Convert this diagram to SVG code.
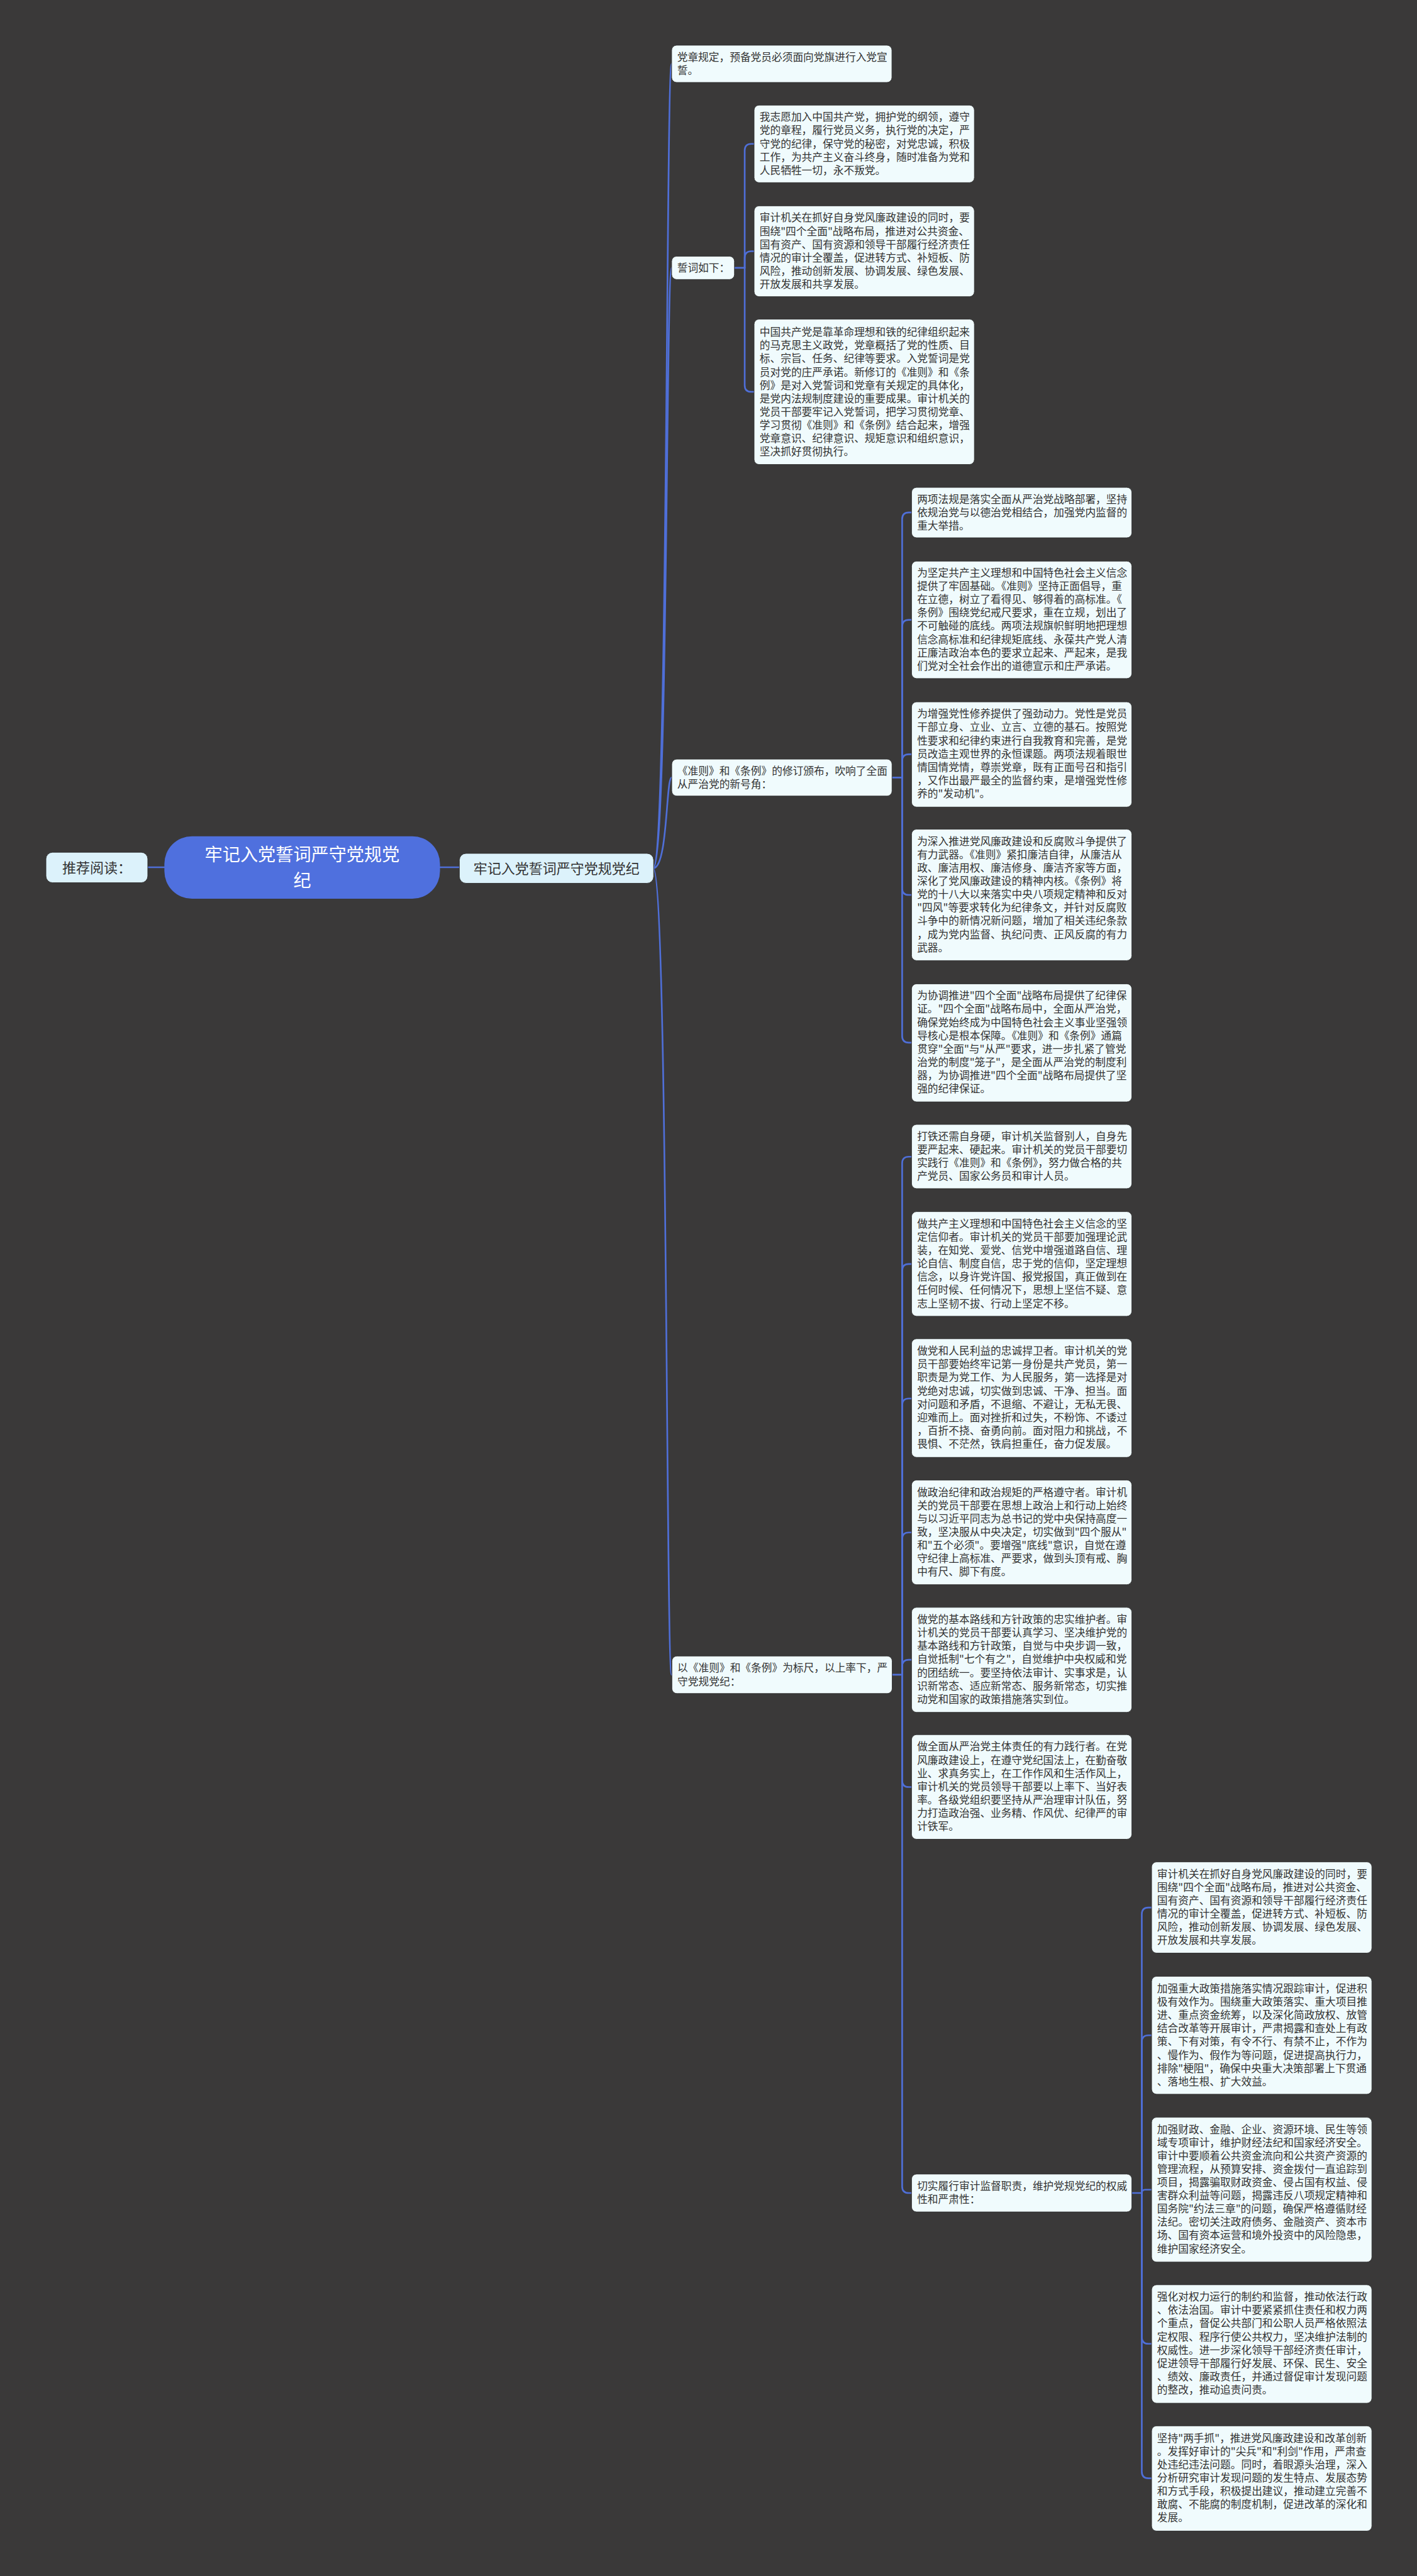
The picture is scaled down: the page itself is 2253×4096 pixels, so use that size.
<svg xmlns="http://www.w3.org/2000/svg" width="2253" height="4096" viewBox="0 0 2253 4096">
<defs>
<style>
.bg{fill:#3a3939}
.box{fill:#f0fbfd;stroke:#2b2b2b;stroke-width:1}
.lbox{fill:#dcf2fb;stroke:#2b2b2b;stroke-width:1}
.root{fill:#4f70de}
.t{font-family:"Noto Sans CJK SC","Liberation Sans",sans-serif;font-size:19px;fill:#333}
.tl{font-family:"Noto Sans CJK SC","Liberation Sans",sans-serif;font-size:25px;fill:#333}
.tr{font-family:"Noto Sans CJK SC","Liberation Sans",sans-serif;font-size:32px;fill:#fff}
.c{fill:none;stroke:#4f6fd8;stroke-width:3;stroke-linecap:round}
</style>
</defs>
<rect class="bg" x="0" y="0" width="2253" height="4096"/>
<g transform="scale(0.88)">
<g id="connectors">
<path class="c" d="M267 1567 H297"/>
<path class="c" d="M795 1567 H830"/>
<path class="c" d="M1180 1569 C1207 1569 1203 115.5 1213.5 115.5"/>
<path class="c" d="M1180 1569 C1207 1569 1203 484 1213.5 484"/>
<path class="c" d="M1180 1569 C1207 1569 1203 1405 1213.5 1405"/>
<path class="c" d="M1180 1569 C1207 1569 1203 3026 1213.5 3026"/>
<path class="c" d="M1327 484 H1345.5"/>
<path class="c" d="M1345.5 484 V272 Q1345.5 260 1357.5 260 H1362.5"/>
<path class="c" d="M1345.5 484 V466 Q1345.5 454 1357.5 454 H1362.5"/>
<path class="c" d="M1345.5 484 V696 Q1345.5 708 1357.5 708 H1362.5"/>
<path class="c" d="M1611.5 1405 H1630"/>
<path class="c" d="M1630 1405 V938 Q1630 926 1642 926 H1647"/>
<path class="c" d="M1630 1405 V1132 Q1630 1120 1642 1120 H1647"/>
<path class="c" d="M1630 1405 V1375 Q1630 1363 1642 1363 H1647"/>
<path class="c" d="M1630 1405 V1605 Q1630 1617 1642 1617 H1647"/>
<path class="c" d="M1630 1405 V1872 Q1630 1884 1642 1884 H1647"/>
<path class="c" d="M1611 3026 H1630"/>
<path class="c" d="M1630 3026 V2102 Q1630 2090 1642 2090 H1647"/>
<path class="c" d="M1630 3026 V2296 Q1630 2284 1642 2284 H1647"/>
<path class="c" d="M1630 3026 V2539 Q1630 2527 1642 2527 H1647"/>
<path class="c" d="M1630 3026 V2781 Q1630 2769 1642 2769 H1647"/>
<path class="c" d="M1630 3026 V3011 Q1630 2999 1642 2999 H1647"/>
<path class="c" d="M1630 3026 V3217 Q1630 3229 1642 3229 H1647"/>
<path class="c" d="M1630 3026 V3950.5 Q1630 3962.5 1642 3962.5 H1647"/>
<path class="c" d="M2045 3962.5 H2063"/>
<path class="c" d="M2063 3962.5 V3458.7 Q2063 3446.7 2075 3446.7 H2080.7"/>
<path class="c" d="M2063 3962.5 V3689.5 Q2063 3677.5 2075 3677.5 H2080.7"/>
<path class="c" d="M2063 3962.5 Q2063 3956.5 2069 3956.5 H2080.7"/>
<path class="c" d="M2063 3962.5 V4223 Q2063 4235 2075 4235 H2080.7"/>
<path class="c" d="M2063 3962.5 V4466 Q2063 4478 2075 4478 H2080.7"/>
</g>

<g id="n-recommend">
<rect class="lbox" x="83" y="1540" width="184" height="55" rx="12"/>
<text class="tl" x="175" y="1577" text-anchor="middle">推荐阅读：</text>
</g>
<g id="n-root">
<rect class="root" x="297" y="1511" width="498" height="113" rx="50"/>
<text class="tr" text-anchor="middle"><tspan x="546" y="1556">牢记入党誓词严守党规党</tspan><tspan x="546" y="1602">纪</tspan></text>
</g>
<g id="n-main">
<rect class="lbox" x="830" y="1542" width="351" height="54" rx="12"/>
<text class="tl" x="1005.5" y="1578" text-anchor="middle">牢记入党誓词严守党规党纪</text>
</g>

<g id="n1">
<rect class="box" x="1213.5" y="81.7" width="398" height="67.3" rx="9"/>
<text class="t"><tspan x="1223.5" y="110">党章规定，预备党员必须面向党旗进行入党宣</tspan><tspan x="1223.5" y="134">誓。</tspan></text>
</g>
<g id="n2">
<rect class="box" x="1213.5" y="463" width="113.5" height="42" rx="9"/>
<text class="t" x="1223.5" y="491">誓词如下：</text>
</g>
<g id="n2-1">
<rect class="box" x="1362.5" y="190" width="398" height="140" rx="9"/>
<text class="t"><tspan x="1372.5" y="218.5">我志愿加入中国共产党，拥护党的纲领，遵守</tspan><tspan x="1372.5" y="242.5">党的章程，履行党员义务，执行党的决定，严</tspan><tspan x="1372.5" y="266.5">守党的纪律，保守党的秘密，对党忠诚，积极</tspan><tspan x="1372.5" y="290.5">工作，为共产主义奋斗终身，随时准备为党和</tspan><tspan x="1372.5" y="314.5">人民牺牲一切，永不叛党。</tspan></text>
</g>
<g id="n2-2">
<rect class="box" x="1362.5" y="372" width="398" height="164" rx="9"/>
<text class="t"><tspan x="1372.5" y="400.5">审计机关在抓好自身党风廉政建设的同时，要</tspan><tspan x="1372.5" y="424.5">围绕"四个全面"战略布局，推进对公共资金、</tspan><tspan x="1372.5" y="448.5">国有资产、国有资源和领导干部履行经济责任</tspan><tspan x="1372.5" y="472.5">情况的审计全覆盖，促进转方式、补短板、防</tspan><tspan x="1372.5" y="496.5">风险，推动创新发展、协调发展、绿色发展、</tspan><tspan x="1372.5" y="520.5">开放发展和共享发展。</tspan></text>
</g>
<g id="n2-3">
<rect class="box" x="1362.5" y="576.7" width="398" height="262.6" rx="9"/>
<text class="t"><tspan x="1372.5" y="607">中国共产党是靠革命理想和铁的纪律组织起来</tspan><tspan x="1372.5" y="631">的马克思主义政党，党章概括了党的性质、目</tspan><tspan x="1372.5" y="655">标、宗旨、任务、纪律等要求。入党誓词是党</tspan><tspan x="1372.5" y="679">员对党的庄严承诺。新修订的《准则》和《条</tspan><tspan x="1372.5" y="703">例》是对入党誓词和党章有关规定的具体化，</tspan><tspan x="1372.5" y="727">是党内法规制度建设的重要成果。审计机关的</tspan><tspan x="1372.5" y="751">党员干部要牢记入党誓词，把学习贯彻党章、</tspan><tspan x="1372.5" y="775">学习贯彻《准则》和《条例》结合起来，增强</tspan><tspan x="1372.5" y="799">党章意识、纪律意识、规矩意识和组织意识，</tspan><tspan x="1372.5" y="823">坚决抓好贯彻执行。</tspan></text>
</g>

<g id="n3">
<rect class="box" x="1213.7" y="1371.7" width="398" height="66.6" rx="9"/>
<text class="t"><tspan x="1223.7" y="1400">《准则》和《条例》的修订颁布，吹响了全面</tspan><tspan x="1223.7" y="1424">从严治党的新号角：</tspan></text>
</g>
<g id="n3-1">
<rect class="box" x="1647" y="880.7" width="398" height="91" rx="9"/>
<text class="t"><tspan x="1657" y="909">两项法规是落实全面从严治党战略部署，坚持</tspan><tspan x="1657" y="933">依规治党与以德治党相结合，加强党内监督的</tspan><tspan x="1657" y="957">重大举措。</tspan></text>
</g>
<g id="n3-2">
<rect class="box" x="1647" y="1014" width="398" height="212" rx="9"/>
<text class="t"><tspan x="1657" y="1042">为坚定共产主义理想和中国特色社会主义信念</tspan><tspan x="1657" y="1066">提供了牢固基础。《准则》坚持正面倡导，重</tspan><tspan x="1657" y="1090">在立德，树立了看得见、够得着的高标准。《</tspan><tspan x="1657" y="1114">条例》围绕党纪戒尺要求，重在立规，划出了</tspan><tspan x="1657" y="1138">不可触碰的底线。两项法规旗帜鲜明地把理想</tspan><tspan x="1657" y="1162">信念高标准和纪律规矩底线、永葆共产党人清</tspan><tspan x="1657" y="1186">正廉洁政治本色的要求立起来、严起来，是我</tspan><tspan x="1657" y="1210">们党对全社会作出的道德宣示和庄严承诺。</tspan></text>
</g>
<g id="n3-3">
<rect class="box" x="1647" y="1268.3" width="398" height="190" rx="9"/>
<text class="t"><tspan x="1657" y="1297">为增强党性修养提供了强劲动力。党性是党员</tspan><tspan x="1657" y="1321">干部立身、立业、立言、立德的基石。按照党</tspan><tspan x="1657" y="1345">性要求和纪律约束进行自我教育和完善，是党</tspan><tspan x="1657" y="1369">员改造主观世界的永恒课题。两项法规着眼世</tspan><tspan x="1657" y="1393">情国情党情，尊崇党章，既有正面号召和指引</tspan><tspan x="1657" y="1417">，又作出最严最全的监督约束，是增强党性修</tspan><tspan x="1657" y="1441">养的"发动机"。</tspan></text>
</g>
<g id="n3-4">
<rect class="box" x="1647" y="1498.3" width="398" height="237.4" rx="9"/>
<text class="t"><tspan x="1657" y="1527">为深入推进党风廉政建设和反腐败斗争提供了</tspan><tspan x="1657" y="1551">有力武器。《准则》紧扣廉洁自律，从廉洁从</tspan><tspan x="1657" y="1575">政、廉洁用权、廉洁修身、廉洁齐家等方面，</tspan><tspan x="1657" y="1599">深化了党风廉政建设的精神内核。《条例》将</tspan><tspan x="1657" y="1623">党的十八大以来落实中央八项规定精神和反对</tspan><tspan x="1657" y="1647">"四风"等要求转化为纪律条文，并针对反腐败</tspan><tspan x="1657" y="1671">斗争中的新情况新问题，增加了相关违纪条款</tspan><tspan x="1657" y="1695">，成为党内监督、执纪问责、正风反腐的有力</tspan><tspan x="1657" y="1719">武器。</tspan></text>
</g>
<g id="n3-5">
<rect class="box" x="1647" y="1777.7" width="398" height="213.3" rx="9"/>
<text class="t"><tspan x="1657" y="1806">为协调推进"四个全面"战略布局提供了纪律保</tspan><tspan x="1657" y="1830">证。"四个全面"战略布局中，全面从严治党，</tspan><tspan x="1657" y="1854">确保党始终成为中国特色社会主义事业坚强领</tspan><tspan x="1657" y="1878">导核心是根本保障。《准则》和《条例》通篇</tspan><tspan x="1657" y="1902">贯穿"全面"与"从严"要求，进一步扎紧了管党</tspan><tspan x="1657" y="1926">治党的制度"笼子"，是全面从严治党的制度利</tspan><tspan x="1657" y="1950">器，为协调推进"四个全面"战略布局提供了坚</tspan><tspan x="1657" y="1974">强的纪律保证。</tspan></text>
</g>

<g id="n4">
<rect class="box" x="1214" y="2992.3" width="398" height="67.7" rx="9"/>
<text class="t"><tspan x="1224" y="3021">以《准则》和《条例》为标尺，以上率下，严</tspan><tspan x="1224" y="3045">守党规党纪：</tspan></text>
</g>
<g id="n4-1">
<rect class="box" x="1647" y="2031.7" width="398" height="116" rx="9"/>
<text class="t"><tspan x="1657" y="2060">打铁还需自身硬，审计机关监督别人，自身先</tspan><tspan x="1657" y="2084">要严起来、硬起来。审计机关的党员干部要切</tspan><tspan x="1657" y="2108">实践行《准则》和《条例》，努力做合格的共</tspan><tspan x="1657" y="2132">产党员、国家公务员和审计人员。</tspan></text>
</g>
<g id="n4-2">
<rect class="box" x="1647" y="2189.3" width="398" height="189" rx="9"/>
<text class="t"><tspan x="1657" y="2218">做共产主义理想和中国特色社会主义信念的坚</tspan><tspan x="1657" y="2242">定信仰者。审计机关的党员干部要加强理论武</tspan><tspan x="1657" y="2266">装，在知党、爱党、信党中增强道路自信、理</tspan><tspan x="1657" y="2290">论自信、制度自信，忠于党的信仰，坚定理想</tspan><tspan x="1657" y="2314">信念，以身许党许国、报党报国，真正做到在</tspan><tspan x="1657" y="2338">任何时候、任何情况下，思想上坚信不疑、意</tspan><tspan x="1657" y="2362">志上坚韧不拔、行动上坚定不移。</tspan></text>
</g>
<g id="n4-3">
<rect class="box" x="1647" y="2419" width="398" height="214.3" rx="9"/>
<text class="t"><tspan x="1657" y="2448">做党和人民利益的忠诚捍卫者。审计机关的党</tspan><tspan x="1657" y="2472">员干部要始终牢记第一身份是共产党员，第一</tspan><tspan x="1657" y="2496">职责是为党工作、为人民服务，第一选择是对</tspan><tspan x="1657" y="2520">党绝对忠诚，切实做到忠诚、干净、担当。面</tspan><tspan x="1657" y="2544">对问题和矛盾，不退缩、不避让，无私无畏、</tspan><tspan x="1657" y="2568">迎难而上。面对挫折和过失，不粉饰、不诿过</tspan><tspan x="1657" y="2592">，百折不挠、奋勇向前。面对阻力和挑战，不</tspan><tspan x="1657" y="2616">畏惧、不茫然，铁肩担重任，奋力促发展。</tspan></text>
</g>
<g id="n4-4">
<rect class="box" x="1647" y="2674.3" width="398" height="189" rx="9"/>
<text class="t"><tspan x="1657" y="2703">做政治纪律和政治规矩的严格遵守者。审计机</tspan><tspan x="1657" y="2727">关的党员干部要在思想上政治上和行动上始终</tspan><tspan x="1657" y="2751">与以习近平同志为总书记的党中央保持高度一</tspan><tspan x="1657" y="2775">致，坚决服从中央决定，切实做到"四个服从"</tspan><tspan x="1657" y="2799">和"五个必须"。要增强"底线"意识，自觉在遵</tspan><tspan x="1657" y="2823">守纪律上高标准、严要求，做到头顶有戒、胸</tspan><tspan x="1657" y="2847">中有尺、脚下有度。</tspan></text>
</g>
<g id="n4-5">
<rect class="box" x="1647" y="2904.3" width="398" height="189.7" rx="9"/>
<text class="t"><tspan x="1657" y="2933">做党的基本路线和方针政策的忠实维护者。审</tspan><tspan x="1657" y="2957">计机关的党员干部要认真学习、坚决维护党的</tspan><tspan x="1657" y="2981">基本路线和方针政策，自觉与中央步调一致，</tspan><tspan x="1657" y="3005">自觉抵制"七个有之"，自觉维护中央权威和党</tspan><tspan x="1657" y="3029">的团结统一。要坚持依法审计、实事求是，认</tspan><tspan x="1657" y="3053">识新常态、适应新常态、服务新常态，切实推</tspan><tspan x="1657" y="3077">动党和国家的政策措施落实到位。</tspan></text>
</g>
<g id="n4-6">
<rect class="box" x="1647" y="3134.3" width="398" height="189" rx="9"/>
<text class="t"><tspan x="1657" y="3163">做全面从严治党主体责任的有力践行者。在党</tspan><tspan x="1657" y="3187">风廉政建设上，在遵守党纪国法上，在勤奋敬</tspan><tspan x="1657" y="3211">业、求真务实上，在工作作风和生活作风上，</tspan><tspan x="1657" y="3235">审计机关的党员领导干部要以上率下、当好表</tspan><tspan x="1657" y="3259">率。各级党组织要坚持从严治理审计队伍，努</tspan><tspan x="1657" y="3283">力打造政治强、业务精、作风优、纪律严的审</tspan><tspan x="1657" y="3307">计铁军。</tspan></text>
</g>
<g id="n4-7">
<rect class="box" x="1647" y="3928.3" width="398" height="68.4" rx="9"/>
<text class="t"><tspan x="1657" y="3957">切实履行审计监督职责，维护党规党纪的权威</tspan><tspan x="1657" y="3981">性和严肃性：</tspan></text>
</g>

<g id="n5-1">
<rect class="box" x="2080.7" y="3364.3" width="398" height="164.7" rx="9"/>
<text class="t"><tspan x="2090.7" y="3393">审计机关在抓好自身党风廉政建设的同时，要</tspan><tspan x="2090.7" y="3417">围绕"四个全面"战略布局，推进对公共资金、</tspan><tspan x="2090.7" y="3441">国有资产、国有资源和领导干部履行经济责任</tspan><tspan x="2090.7" y="3465">情况的审计全覆盖，促进转方式、补短板、防</tspan><tspan x="2090.7" y="3489">风险，推动创新发展、协调发展、绿色发展、</tspan><tspan x="2090.7" y="3513">开放发展和共享发展。</tspan></text>
</g>
<g id="n5-2">
<rect class="box" x="2080.7" y="3571" width="398" height="213" rx="9"/>
<text class="t"><tspan x="2090.7" y="3600">加强重大政策措施落实情况跟踪审计，促进积</tspan><tspan x="2090.7" y="3624">极有效作为。围绕重大政策落实、重大项目推</tspan><tspan x="2090.7" y="3648">进、重点资金统筹，以及深化简政放权、放管</tspan><tspan x="2090.7" y="3672">结合改革等开展审计，严肃揭露和查处上有政</tspan><tspan x="2090.7" y="3696">策、下有对策，有令不行、有禁不止，不作为</tspan><tspan x="2090.7" y="3720">、慢作为、假作为等问题，促进提高执行力，</tspan><tspan x="2090.7" y="3744">排除"梗阻"，确保中央重大决策部署上下贯通</tspan><tspan x="2090.7" y="3768">、落地生根、扩大效益。</tspan></text>
</g>
<g id="n5-3">
<rect class="box" x="2080.7" y="3825.7" width="398" height="261.6" rx="9"/>
<text class="t"><tspan x="2090.7" y="3854">加强财政、金融、企业、资源环境、民生等领</tspan><tspan x="2090.7" y="3878">域专项审计，维护财经法纪和国家经济安全。</tspan><tspan x="2090.7" y="3902">审计中要顺着公共资金流向和公共资产资源的</tspan><tspan x="2090.7" y="3926">管理流程，从预算安排、资金拨付一直追踪到</tspan><tspan x="2090.7" y="3950">项目，揭露骗取财政资金、侵占国有权益、侵</tspan><tspan x="2090.7" y="3974">害群众利益等问题，揭露违反八项规定精神和</tspan><tspan x="2090.7" y="3998">国务院"约法三章"的问题，确保严格遵循财经</tspan><tspan x="2090.7" y="4022">法纪。密切关注政府债务、金融资产、资本市</tspan><tspan x="2090.7" y="4046">场、国有资本运营和境外投资中的风险隐患，</tspan><tspan x="2090.7" y="4070">维护国家经济安全。</tspan></text>
</g>
<g id="n5-4">
<rect class="box" x="2080.7" y="4128.3" width="398" height="214" rx="9"/>
<text class="t"><tspan x="2090.7" y="4157">强化对权力运行的制约和监督，推动依法行政</tspan><tspan x="2090.7" y="4181">、依法治国。审计中要紧紧抓住责任和权力两</tspan><tspan x="2090.7" y="4205">个重点，督促公共部门和公职人员严格依照法</tspan><tspan x="2090.7" y="4229">定权限、程序行使公共权力，坚决维护法制的</tspan><tspan x="2090.7" y="4253">权威性。进一步深化领导干部经济责任审计，</tspan><tspan x="2090.7" y="4277">促进领导干部履行好发展、环保、民生、安全</tspan><tspan x="2090.7" y="4301">、绩效、廉政责任，并通过督促审计发现问题</tspan><tspan x="2090.7" y="4325">的整改，推动追责问责。</tspan></text>
</g>
<g id="n5-5">
<rect class="box" x="2080.7" y="4383.3" width="398" height="190" rx="9"/>
<text class="t"><tspan x="2090.7" y="4412">坚持"两手抓"，推进党风廉政建设和改革创新</tspan><tspan x="2090.7" y="4436">。发挥好审计的"尖兵"和"利剑"作用，严肃查</tspan><tspan x="2090.7" y="4460">处违纪违法问题。同时，着眼源头治理，深入</tspan><tspan x="2090.7" y="4484">分析研究审计发现问题的发生特点、发展态势</tspan><tspan x="2090.7" y="4508">和方式手段，积极提出建议，推动建立完善不</tspan><tspan x="2090.7" y="4532">敢腐、不能腐的制度机制，促进改革的深化和</tspan><tspan x="2090.7" y="4556">发展。</tspan></text>
</g>
</g>
</svg>
